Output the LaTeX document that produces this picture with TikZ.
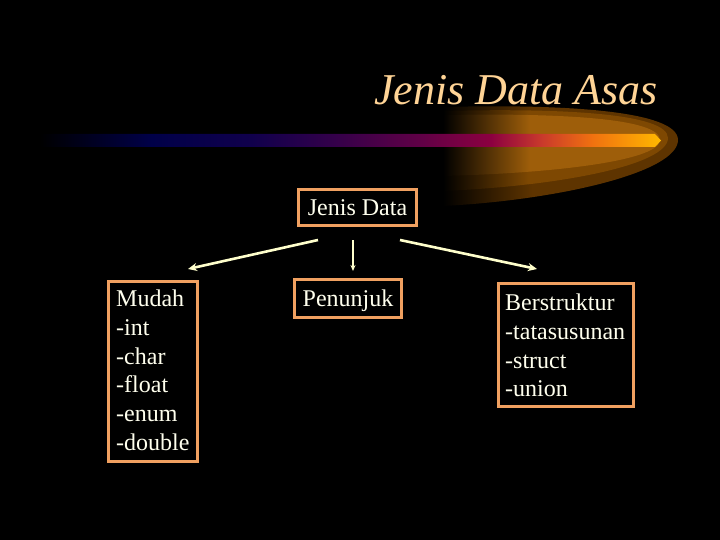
\documentclass[tikz,border=0pt]{standalone}
\usepackage{fontspec}
\setmainfont{Liberation Serif}
\usetikzlibrary{arrows.meta}
\definecolor{c1}{RGB}{0,0,72}
\definecolor{c2}{RGB}{16,0,76}
\definecolor{c3}{RGB}{50,0,74}
\definecolor{c4}{RGB}{96,0,70}
\definecolor{c5}{RGB}{140,0,64}
\definecolor{c6}{RGB}{200,56,44}
\definecolor{c7}{RGB}{240,112,16}
\definecolor{c8}{RGB}{255,184,0}
\definecolor{gout}{RGB}{94,52,0}
\definecolor{gmid}{RGB}{126,72,2}
\definecolor{ginn}{RGB}{158,94,10}
\definecolor{titlec}{RGB}{255,212,150}
\definecolor{boxc}{RGB}{240,160,96}
\definecolor{txtc}{RGB}{255,255,238}
\definecolor{arrc}{RGB}{255,255,204}
\pgfdeclarehorizontalshading{barshade}{100bp}{color(0bp)=(black); color(25bp)=(black); color(34bp)=(c1); color(42bp)=(c2); color(48.4bp)=(c3); color(55.6bp)=(c4); color(61.3bp)=(c5); color(65.3bp)=(c6); color(69.4bp)=(c7); color(75bp)=(c8); color(100bp)=(c8)}
\pgfdeclarehorizontalshading{gloout}{100bp}{color(0bp)=(black); color(25bp)=(black); color(44bp)=(gout); color(100bp)=(gout)}
\pgfdeclarehorizontalshading{glomid}{100bp}{color(0bp)=(black); color(25bp)=(black); color(44bp)=(gmid); color(100bp)=(gmid)}
\pgfdeclarehorizontalshading{gloinn}{100bp}{color(0bp)=(black); color(25bp)=(black); color(45bp)=(ginn); color(100bp)=(ginn)}
\tikzset{
  bodyfont/.style={font=\fontsize{24}{28.8}\selectfont},
  boxnode/.style={draw=boxc, line width=3pt, fill=black, text=txtc, bodyfont, inner sep=2pt},
  listtext/.style={text=txtc, bodyfont, align=left, inner sep=0pt, anchor=north west},
  arrthick/.style={draw=arrc, line width=2.6pt, -{Stealth[length=9pt,width=8pt]}},
  arrthin/.style={draw=arrc, line width=1.3pt, -{Stealth[length=6pt,width=5pt]}}
}
\begin{document}
\begin{tikzpicture}[x=1pt,y=-1pt]
\useasboundingbox (0,0) rectangle (720,540);
\fill[black] (0,0) rectangle (720,540);
% glow
\shade[shading=gloout] (443,107) .. controls (560,104) and (678,110) .. (678,140) .. controls (678,172) and (560,200) .. (443,206) -- cycle;
\shade[shading=glomid] (443,111) .. controls (560,108) and (668,113) .. (668,138) .. controls (668,165) and (560,186) .. (443,191) -- cycle;
\shade[shading=gloinn] (443,115) .. controls (560,113) and (660,118) .. (660,140) .. controls (660,160) and (560,173) .. (443,176) -- cycle;
% bar
\shade[shading=barshade] (40,134) -- (655,134) -- (661,140.5) -- (655,147) -- (40,147) -- cycle;
% title
\node[anchor=base east, inner sep=0pt, text=titlec, font=\fontsize{44}{50}\selectfont\itshape] (title) at (658,105) {Jenis Data Asas};
% boxes
\node[boxnode, minimum width=118, minimum height=36, text height=16, text depth=0pt] (jd) at (357.5,207.5) {Jenis Data};
\node[boxnode, minimum width=107, minimum height=38, text height=16, text depth=0pt] (pen) at (348,298.5) {Penunjuk};
\node[boxnode, minimum width=89, minimum height=180] (mudah) at (153,371.5) {};
\node[boxnode, minimum width=135, minimum height=123] (ber) at (566,345) {};
\node[listtext] (mudahtxt) at (116,289.6) {Mudah\\-int\\-char\\-float\\-enum\\-double};
\node[listtext] (bertxt) at (505,293.6) {Berstruktur\\-tatasusunan\\-struct\\-union};
% connectors
\coordinate (lstart) at (318,240);
\coordinate (lend) at (188,269);
\coordinate (mstart) at (353,240);
\coordinate (mend) at (353,271);
\coordinate (rstart) at (400,240);
\coordinate (rend) at (537,269);
\draw[arrthick] (lstart) -- (lend);
\draw[arrthin] (mstart) -- (mend);
\draw[arrthick] (rstart) -- (rend);
\end{tikzpicture}
\end{document}
